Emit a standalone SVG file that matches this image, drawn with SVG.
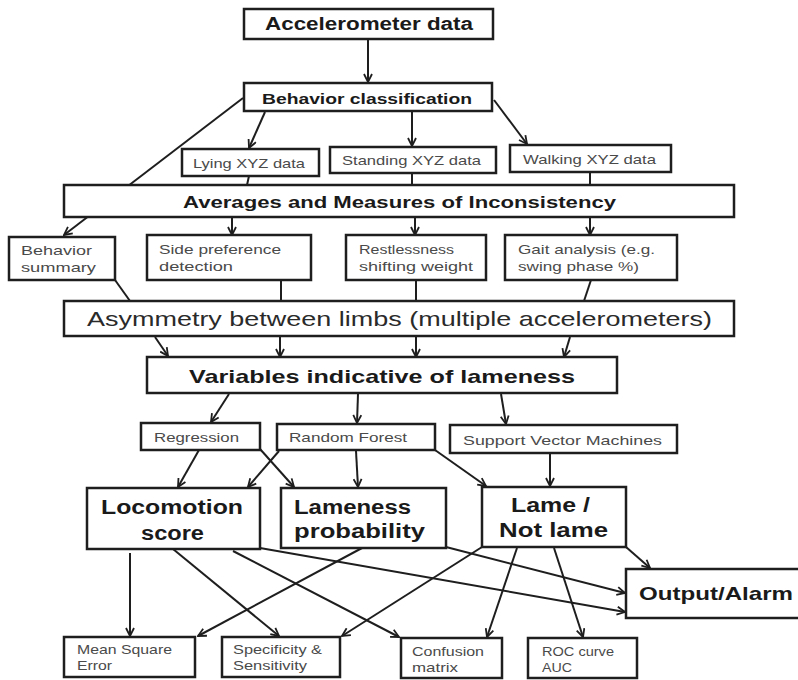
<svg xmlns="http://www.w3.org/2000/svg" width="798" height="680" viewBox="0 0 798 680">
<style>
  .bx { fill: #ffffff; stroke: #1e1e1e; stroke-width: 2.5; }
  .ln { fill: none; stroke: #1e1e1e; stroke-width: 2; }
  .ar { fill: none; stroke: #1e1e1e; stroke-width: 2; marker-end: url(#arr); }
  .tb { font-family: "Liberation Sans", Arial, sans-serif; font-weight: bold; fill: #1a1a1a; }
  .ts { font-family: "Liberation Sans", Arial, sans-serif; fill: #4a4a4a; font-size: 13px; }
  .tr { font-family: "Liberation Sans", Arial, sans-serif; fill: #2a2a2a; }
</style>
<defs>
  <marker id="arr" viewBox="0 0 10 10" refX="9" refY="5" markerWidth="10" markerHeight="10" markerUnits="userSpaceOnUse" orient="auto">
    <path d="M1,1 L9,5 L1,9" fill="none" stroke="#1e1e1e" stroke-width="1.8"/>
  </marker>
</defs>
<rect x="0" y="0" width="798" height="680" fill="#ffffff"/>
<g id="connectors">
  <line class="ar" x1="368" y1="39" x2="368" y2="82"/>
  <line class="ar" x1="243" y1="98" x2="64" y2="235"/>
  <line class="ar" x1="265" y1="112" x2="249" y2="148"/>
  <line class="ar" x1="412" y1="112" x2="412" y2="146"/>
  <line class="ar" x1="494" y1="100" x2="527" y2="144"/>
  <line class="ln" x1="249" y1="176" x2="247" y2="185"/>
  <line class="ln" x1="412" y1="173" x2="412" y2="185"/>
  <line class="ln" x1="590" y1="172" x2="590" y2="185"/>
  <line class="ar" x1="232" y1="217" x2="232" y2="235"/>
  <line class="ar" x1="415" y1="217" x2="415" y2="235"/>
  <line class="ar" x1="590" y1="217" x2="590" y2="235"/>
  <line class="ln" x1="115" y1="280" x2="130" y2="301"/>
  <line class="ln" x1="281" y1="280" x2="281" y2="301"/>
  <line class="ln" x1="416" y1="280" x2="416" y2="301"/>
  <line class="ln" x1="591" y1="280" x2="584" y2="301"/>
  <line class="ar" x1="155" y1="337" x2="168" y2="356"/>
  <line class="ar" x1="280" y1="337" x2="280" y2="357"/>
  <line class="ar" x1="416" y1="337" x2="416" y2="357"/>
  <line class="ar" x1="570" y1="337" x2="564" y2="357"/>
  <line class="ar" x1="229" y1="394" x2="211" y2="422"/>
  <line class="ar" x1="358" y1="394" x2="357" y2="423"/>
  <line class="ar" x1="501" y1="394" x2="506" y2="424"/>
  <line class="ar" x1="199" y1="450" x2="178" y2="487"/>
  <line class="ar" x1="260" y1="449" x2="294" y2="487"/>
  <line class="ar" x1="279" y1="451" x2="248" y2="487"/>
  <line class="ar" x1="356" y1="451" x2="358" y2="487"/>
  <line class="ar" x1="435" y1="450" x2="486" y2="486"/>
  <line class="ar" x1="550" y1="453" x2="550" y2="486"/>
  <line class="ar" x1="130" y1="553" x2="130" y2="636"/>
  <line class="ar" x1="173" y1="549" x2="279" y2="636"/>
  <line class="ar" x1="233" y1="551" x2="399" y2="637"/>
  <line class="ar" x1="260" y1="548" x2="625" y2="612"/>
  <line class="ar" x1="446" y1="547" x2="625" y2="593"/>
  <line class="ar" x1="362" y1="548" x2="198" y2="636"/>
  <line class="ar" x1="482" y1="547" x2="342" y2="636"/>
  <line class="ar" x1="517" y1="548" x2="487" y2="637"/>
  <line class="ar" x1="554" y1="548" x2="583" y2="637"/>
  <line class="ar" x1="626" y1="547" x2="650" y2="568"/>
</g>
<g id="accelerometer-data">
  <rect class="bx" x="244" y="9" width="249" height="30"/>
  <text class="tb" x="265" y="29.5" font-size="18" textLength="208" lengthAdjust="spacingAndGlyphs">Accelerometer data</text>
</g>
<g id="behavior-classification">
  <rect class="bx" x="244" y="83" width="248" height="28"/>
  <text class="tb" x="262" y="103.5" font-size="15.5" textLength="210" lengthAdjust="spacingAndGlyphs">Behavior classification</text>
</g>
<g id="lying">
  <rect class="bx" x="182" y="149" width="137" height="27"/>
  <text class="ts" x="193" y="167.5" textLength="112" lengthAdjust="spacingAndGlyphs">Lying XYZ data</text>
</g>
<g id="standing">
  <rect class="bx" x="330" y="147" width="166" height="26"/>
  <text class="ts" x="342" y="164.5" textLength="139" lengthAdjust="spacingAndGlyphs">Standing XYZ data</text>
</g>
<g id="walking">
  <rect class="bx" x="510" y="145" width="161" height="27"/>
  <text class="ts" x="523" y="163.5" textLength="133" lengthAdjust="spacingAndGlyphs">Walking XYZ data</text>
</g>
<g id="averages">
  <rect class="bx" x="64" y="185" width="670" height="32"/>
  <text class="tb" x="183" y="208" font-size="17" textLength="433" lengthAdjust="spacingAndGlyphs">Averages and Measures of Inconsistency</text>
</g>
<g id="behavior-summary">
  <rect class="bx" x="9" y="237" width="106" height="43"/>
  <text class="ts" x="21" y="255" textLength="71" lengthAdjust="spacingAndGlyphs">Behavior</text>
  <text class="ts" x="21" y="272" textLength="75" lengthAdjust="spacingAndGlyphs">summary</text>
</g>
<g id="side-preference">
  <rect class="bx" x="147" y="235" width="164" height="45"/>
  <text class="ts" x="159" y="254" textLength="122" lengthAdjust="spacingAndGlyphs">Side preference</text>
  <text class="ts" x="159" y="271" textLength="74" lengthAdjust="spacingAndGlyphs">detection</text>
</g>
<g id="restlessness">
  <rect class="bx" x="346" y="235" width="140" height="45"/>
  <text class="ts" x="359" y="254" textLength="95" lengthAdjust="spacingAndGlyphs">Restlessness</text>
  <text class="ts" x="359" y="271" textLength="114" lengthAdjust="spacingAndGlyphs">shifting weight</text>
</g>
<g id="gait-analysis">
  <rect class="bx" x="505" y="235" width="172" height="45"/>
  <text class="ts" x="518" y="254" textLength="137" lengthAdjust="spacingAndGlyphs">Gait analysis (e.g.</text>
  <text class="ts" x="518" y="271" textLength="121" lengthAdjust="spacingAndGlyphs">swing phase %)</text>
</g>
<g id="asymmetry">
  <rect class="bx" x="64" y="301" width="670" height="35"/>
  <text class="tr" x="87" y="326" font-size="21" textLength="625" lengthAdjust="spacingAndGlyphs">Asymmetry between limbs (multiple accelerometers)</text>
</g>
<g id="variables">
  <rect class="bx" x="147" y="357" width="470" height="36"/>
  <text class="tb" x="189" y="383" font-size="19" textLength="386" lengthAdjust="spacingAndGlyphs">Variables indicative of lameness</text>
</g>
<g id="regression">
  <rect class="bx" x="141" y="423" width="119" height="27"/>
  <text class="ts" x="154" y="442" textLength="85" lengthAdjust="spacingAndGlyphs">Regression</text>
</g>
<g id="random-forest">
  <rect class="bx" x="277" y="424" width="158" height="26"/>
  <text class="ts" x="289" y="442" textLength="118" lengthAdjust="spacingAndGlyphs">Random Forest</text>
</g>
<g id="svm">
  <rect class="bx" x="450" y="425" width="227" height="28"/>
  <text class="ts" x="463" y="444.5" textLength="199" lengthAdjust="spacingAndGlyphs">Support Vector Machines</text>
</g>
<g id="locomotion-score">
  <rect class="bx" x="87" y="488" width="173" height="61"/>
  <text class="tb" x="101" y="514" font-size="20" textLength="142" lengthAdjust="spacingAndGlyphs">Locomotion</text>
  <text class="tb" x="141" y="540" font-size="20" textLength="63" lengthAdjust="spacingAndGlyphs">score</text>
</g>
<g id="lameness-probability">
  <rect class="bx" x="281" y="488" width="165" height="60"/>
  <text class="tb" x="294" y="514" font-size="20" textLength="117" lengthAdjust="spacingAndGlyphs">Lameness</text>
  <text class="tb" x="294" y="538" font-size="20" textLength="131" lengthAdjust="spacingAndGlyphs">probability</text>
</g>
<g id="lame-not-lame">
  <rect class="bx" x="482" y="487" width="144" height="60"/>
  <text class="tb" x="511" y="512" font-size="20" textLength="79" lengthAdjust="spacingAndGlyphs">Lame /</text>
  <text class="tb" x="499" y="537" font-size="20" textLength="109" lengthAdjust="spacingAndGlyphs">Not lame</text>
</g>
<g id="output-alarm">
  <rect class="bx" x="626" y="569" width="180" height="49"/>
  <text class="tb" x="639" y="600" font-size="19" textLength="154" lengthAdjust="spacingAndGlyphs">Output/Alarm</text>
</g>
<g id="mean-square-error">
  <rect class="bx" x="64" y="637" width="131" height="40"/>
  <text class="ts" x="77" y="654" textLength="95" lengthAdjust="spacingAndGlyphs">Mean Square</text>
  <text class="ts" x="77" y="670" textLength="35" lengthAdjust="spacingAndGlyphs">Error</text>
</g>
<g id="specificity-sensitivity">
  <rect class="bx" x="222" y="637" width="118" height="40"/>
  <text class="ts" x="233" y="654" textLength="89" lengthAdjust="spacingAndGlyphs">Specificity &amp;</text>
  <text class="ts" x="233" y="670" textLength="74" lengthAdjust="spacingAndGlyphs">Sensitivity</text>
</g>
<g id="confusion-matrix">
  <rect class="bx" x="401" y="638" width="101" height="40"/>
  <text class="ts" x="412" y="656" textLength="72" lengthAdjust="spacingAndGlyphs">Confusion</text>
  <text class="ts" x="412" y="672" textLength="46" lengthAdjust="spacingAndGlyphs">matrix</text>
</g>
<g id="roc-curve">
  <rect class="bx" x="528" y="638" width="109" height="40"/>
  <text class="ts" x="542" y="656" textLength="72" lengthAdjust="spacingAndGlyphs">ROC curve</text>
  <text class="ts" x="542" y="672" textLength="30" lengthAdjust="spacingAndGlyphs">AUC</text>
</g>
</svg>
